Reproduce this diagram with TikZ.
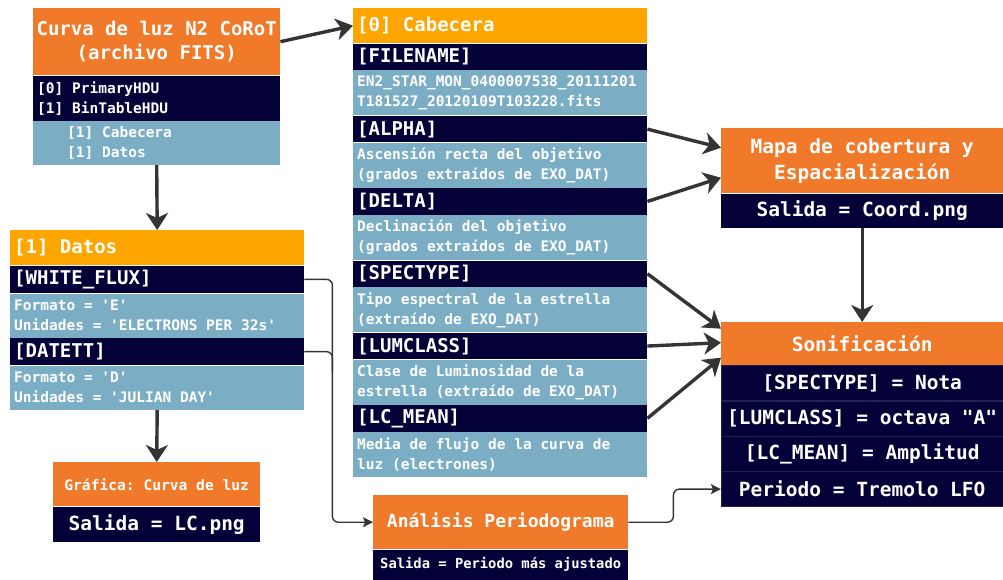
\documentclass[tikz,border=0pt]{standalone}
\usepackage{fontspec}
\setmonofont{DejaVu Sans Mono}
\usepackage{tikz}
\usetikzlibrary{arrows.meta,positioning,calc}
\definecolor{CorotOrange}{RGB}{240,121,42}
\definecolor{Amber}{RGB}{255,165,0}
\definecolor{Navy}{RGB}{4,1,56}
\definecolor{NavyEdge}{RGB}{34,32,84}
\definecolor{FitsBlue}{RGB}{123,174,196}
\definecolor{ArrowGrey}{RGB}{52,52,52}
\newcommand{\monofont}[2]{\ttfamily\bfseries\fontsize{#1}{#2}\selectfont}
\tikzset{
  cell/.style={text=white, inner xsep=4pt, inner ysep=0pt},
  orangebox/.style={cell, fill=CorotOrange, align=flush center, inner xsep=1pt},
  amberbox/.style={cell, fill=Amber, align=flush left},
  navybox/.style={cell, fill=Navy, align=flush left},
  navymid/.style={cell, fill=Navy, align=flush center, inner xsep=1pt},
  navyrow/.style={navymid, draw=NavyEdge, line width=0.6pt},
  bluebox/.style={cell, fill=FitsBlue, align=flush left},
  boxw/.style 2 args={minimum width=#1, text width=#2},
  fwide/.style={font=\monofont{19.5}{26}},
  fbig/.style={font=\monofont{19}{24}},
  fmid/.style={font=\monofont{18}{22}},
  fsmall/.style={font=\monofont{14.5}{20}},
  fsmallc/.style={font=\monofont{14.6}{20}},
  ftiny/.style={font=\monofont{13.8}{18}},
  bigarr/.style={-{Stealth[length=17pt,width=22pt,inset=5pt]}, draw=ArrowGrey, line width=3.4pt},
  thinarr/.style={-{Stealth[length=10pt,width=10pt,inset=2pt]}, draw=ArrowGrey, line width=1.4pt, rounded corners=6pt},
  thinline/.style={draw=ArrowGrey, line width=1.4pt, rounded corners=6pt},
}
\begin{document}
\begin{tikzpicture}[x=1pt,y=-1pt]
\useasboundingbox (0,0) rectangle (1003,580);

% ---------------- FITS file ----------------
\node[orangebox, boxw={247pt}{245pt}, minimum height=67pt, fbig, anchor=north west] (ahead) at (33,8)
  {Curva de luz N2 CoRoT\\(archivo FITS)};
\node[navybox, boxw={247pt}{239pt}, minimum height=45pt, fsmall, below=0pt of ahead] (ahdu)
  {[0] PrimaryHDU\\{}[1] BinTableHDU};
\node[bluebox, boxw={247pt}{239pt}, minimum height=44pt, fsmall, below=0pt of ahdu] (abin)
  {\hspace*{30pt}[1] Cabecera\\\hspace*{30pt}[1] Datos};

% ---------------- header [0] ----------------
\node[amberbox, boxw={294pt}{286pt}, minimum height=35pt, fbig, anchor=north west] (bhead) at (353,8) {[0] Cabecera};
\node[navybox, boxw={294pt}{286pt}, minimum height=26.5pt, fbig, below=0pt of bhead] (bfile) {[FILENAME]};
\node[bluebox, boxw={294pt}{286pt}, minimum height=45pt, fsmall, below=0pt of bfile] (bfiletxt)
  {EN2\_STAR\_MON\_0400007538\_20111201\\T181527\_20120109T103228.fits};
\node[navybox, boxw={294pt}{286pt}, minimum height=26.5pt, fbig, below=0pt of bfiletxt] (balpha) {[ALPHA]};
\node[bluebox, boxw={294pt}{286pt}, minimum height=45pt, fsmall, below=0pt of balpha] (balphatxt)
  {Ascensión recta del objetivo\\(grados extraídos de EXO\_DAT)};
\node[navybox, boxw={294pt}{286pt}, minimum height=26.5pt, fbig, below=0pt of balphatxt] (bdelta) {[DELTA]};
\node[bluebox, boxw={294pt}{286pt}, minimum height=45pt, fsmall, below=0pt of bdelta] (bdeltatxt)
  {Declinación del objetivo\\(grados extraídos de EXO\_DAT)};
\node[navybox, boxw={294pt}{286pt}, minimum height=26.5pt, fbig, below=0pt of bdeltatxt] (bspec) {[SPECTYPE]};
\node[bluebox, boxw={294pt}{286pt}, minimum height=45pt, fsmall, below=0pt of bspec] (bspectxt)
  {Tipo espectral de la estrella\\(extraído de EXO\_DAT)};
\node[navybox, boxw={294pt}{286pt}, minimum height=26.5pt, fbig, below=0pt of bspectxt] (blum) {[LUMCLASS]};
\node[bluebox, boxw={294pt}{286pt}, minimum height=45pt, fsmall, below=0pt of blum] (blumtxt)
  {Clase de Luminosidad de la\\estrella (extraído de EXO\_DAT)};
\node[navybox, boxw={294pt}{286pt}, minimum height=26.5pt, fbig, below=0pt of blumtxt] (bmean) {[LC\_MEAN]};
\node[bluebox, boxw={294pt}{286pt}, minimum height=45pt, fsmall, below=0pt of bmean] (bmeantxt)
  {Media de flujo de la curva de\\luz (electrones)};

% ---------------- data [1] ----------------
\node[amberbox, boxw={294pt}{286pt}, minimum height=35pt, fbig, anchor=north west] (chead) at (10,230) {[1] Datos};
\node[navybox, boxw={294pt}{286pt}, minimum height=27.5pt, fbig, below=0pt of chead] (cflux) {[WHITE\_FLUX]};
\node[bluebox, boxw={294pt}{286pt}, minimum height=44pt, fsmall, below=0pt of cflux] (cfluxtxt)
  {Formato = 'E'\\Unidades = 'ELECTRONS PER 32s'};
\node[navybox, boxw={294pt}{286pt}, minimum height=27.5pt, fbig, below=0pt of cfluxtxt] (cdate) {[DATETT]};
\node[bluebox, boxw={294pt}{286pt}, minimum height=44pt, fsmall, below=0pt of cdate] (cdatetxt)
  {Formato = 'D'\\Unidades = 'JULIAN DAY'};

% ---------------- outputs ----------------
\node[orangebox, boxw={207pt}{205pt}, minimum height=44pt, fsmallc, anchor=north west] (ehead) at (53,462) {Gráfica: Curva de luz};
\node[navymid, boxw={207pt}{205pt}, minimum height=35pt, fwide, below=0pt of ehead] (eout) {Salida = LC.png};

\node[orangebox, boxw={255pt}{253pt}, minimum height=54pt, fmid, anchor=north west] (dhead) at (373,495) {Análisis Periodograma};
\node[navymid, boxw={255pt}{253pt}, minimum height=30pt, ftiny, below=0pt of dhead] (dout) {Salida = Periodo más ajustado};

\node[orangebox, boxw={282pt}{280pt}, minimum height=65pt, fwide, anchor=north west] (fhead) at (721,128)
  {Mapa de cobertura y\\Espacialización};
\node[navymid, boxw={282pt}{280pt}, minimum height=34pt, fwide, below=0pt of fhead] (fout) {Salida = Coord.png};

\node[orangebox, boxw={282pt}{280pt}, minimum height=43pt, fwide, anchor=north west] (ghead) at (721,322) {Sonificación};
\node[navyrow, boxw={282pt}{280pt}, minimum height=34.75pt, fwide, below=0pt of ghead] (gnota) {[SPECTYPE] = Nota};
\node[navyrow, boxw={282pt}{280pt}, minimum height=34.75pt, fwide, below=0pt of gnota] (goct) {[LUMCLASS] = octava "A"};
\node[navyrow, boxw={282pt}{280pt}, minimum height=34.75pt, fwide, below=0pt of goct] (gamp) {[LC\_MEAN] = Amplitud};
\node[navyrow, boxw={282pt}{280pt}, minimum height=34.75pt, fwide, below=0pt of gamp] (gper) {Periodo = Tremolo LFO};

% ---------------- connectors ----------------
\draw[bigarr] (ahead.east) -- (bhead.west);
\draw[bigarr] (abin.south) -- (chead.north);
\draw[bigarr] (cdatetxt.south) -- (ehead.north);
\draw[bigarr] (balpha.east) -- ($(fhead.west)+(0,-13)$);
\draw[bigarr] (bdelta.east) -- ($(fhead.west)+(0,17)$);
\draw[bigarr] (bspec.east) -- ($(ghead.west)+(0,-15)$);
\draw[bigarr] (blum.east) -- ($(ghead.west)+(0,-1)$);
\draw[bigarr] (bmean.east) -- ($(ghead.west)+(0,14)$);
\draw[bigarr] (fout.south) -- (ghead.north);

\draw[thinarr] (cflux.east) -- ++(28,0) |- (dhead.west);
\draw[thinline] (cdate.east) -- ++(28,0) -- ++(0,20);
\draw[thinarr] (dhead.east) -- ++(45,0) |- (gper.west);

\end{tikzpicture}
\end{document}
